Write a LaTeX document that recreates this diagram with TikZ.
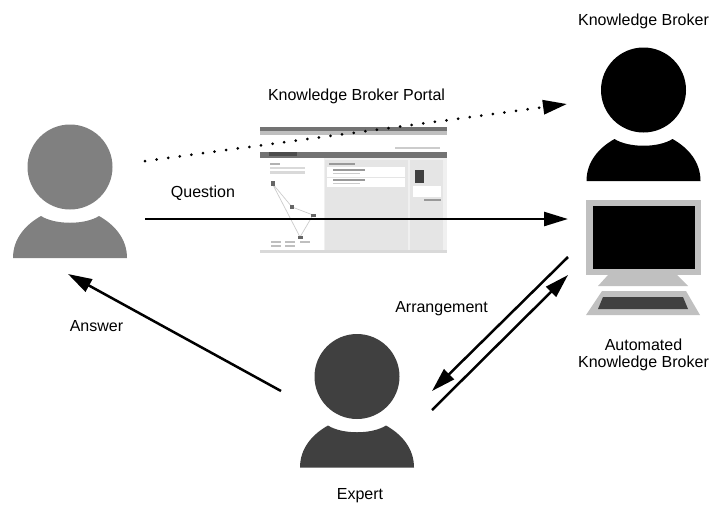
\documentclass[tikz,border=0pt]{standalone}
\usepackage{fontspec}
\setmainfont{Liberation Sans}
\usetikzlibrary{arrows.meta}
\definecolor{asker}{HTML}{808080}
\definecolor{expert}{HTML}{404040}
\definecolor{monitor}{HTML}{C0C0C0}
\tikzset{
  label text/.style={font=\fontsize{16}{17.5}\selectfont, align=center, inner sep=0pt},
  flow/.style={line width=2.5pt, -{Triangle[length=24pt,width=14pt]}},
  panel/.style={fill=black!10, draw=none},
  bar/.style={fill=#1, draw=none}
}
\newcommand{\personicon}[3]
{
\begin{scope}[shift={(#1,#2)}]
\fill[#3] (0,0) circle (42.5);
\fill[#3] (-57,91) .. controls (-57,72) and (-45,58) .. (-29,49)
  .. controls (-15,58) and (15,58) .. (29,49)
  .. controls (45,58) and (57,72) .. (57,91) -- cycle;
\end{scope}
}

\begin{document}
\begin{tikzpicture}[x=1pt, y=-1pt]
  \useasboundingbox (0,0) rectangle (711,504);

  \personicon{70}{167}{asker}
  \personicon{643.5}{90}{black}
  \personicon{357}{376.5}{expert}

  % monitor and keyboard
  \fill[monitor] (586,200) rectangle (701,275);
  \fill[black] (593,206) rectangle (695,269);
  \fill[monitor] (608,275) -- (677,275) -- (688,286) -- (598,286) -- cycle;
  \fill[monitor] (602,291) -- (686,291) -- (700,315) -- (586,315) -- cycle;
  \fill[expert] (603,297) -- (683,297) -- (688,309) -- (598,309) -- cycle;

  % portal screenshot
  \node[draw=none, fill=black!6, inner sep=0pt, minimum width=187pt, minimum height=126pt, anchor=north west] (portal) at (260,127) {};
  \fill[bar=black!55] (260,127) rectangle (447,131);
  \fill[bar=black!25] (260,131) rectangle (447,135);
  \fill[bar=white] (260,135) rectangle (447,152);
  \fill[bar=black!55] (260,152) rectangle (447,158);
  \fill[bar=black!70] (269,152) rectangle (297,156);
  \fill[bar=black!20] (395,147) rectangle (440,148.5);
  \fill[bar=white] (260,158) rectangle (324,250);
  \fill[panel] (325,160) rectangle (408,250);
  \fill[panel] (410,160) rectangle (443,250);
  \fill[bar=white] (327,167) rectangle (405,177);
  \fill[bar=white] (327,178) rectangle (405,187);
  \fill[bar=black!75] (415,170) rectangle (424,183);
  \fill[bar=white] (413,186) rectangle (441,197);
  \fill[bar=black!40] (424,199) rectangle (441,201);
  \fill[bar=black!30] (270,163) rectangle (280,165);
  \fill[bar=black!15] (270,167) rectangle (305,169);
  \fill[bar=black!15] (270,171) rectangle (305,174);
  \fill[bar=black!40] (329,163) rectangle (355,164.5);
  \fill[bar=black!40] (333,169) rectangle (365,171);
  \fill[bar=black!40] (333,179) rectangle (365,181);
  \fill[bar=black!20] (333,173) rectangle (360,174);
  \fill[bar=black!20] (333,183) rectangle (360,184);
  \draw[black!20, line width=0.7pt] (272,183) -- (292,207) -- (313,215) -- (300,237) -- (272,183);
  \fill[bar=black!60] (271,181) rectangle (275,186);
  \fill[bar=black!60] (290,205) rectangle (294,209);
  \fill[bar=black!60] (311,214) rectangle (316,217);
  \fill[bar=black!60] (298,236) rectangle (303,239);
  \foreach \legendx in {271,285,300}
    \fill[bar=black!25] (\legendx,241) rectangle ++(10,1.5);
  \foreach \legendx in {271,285}
    \fill[bar=black!25] (\legendx,245) rectangle ++(10,1.5);
  \fill[bar=black!15] (260,250) rectangle (447,253);

  \coordinate (dotted start) at (145,161);
  \coordinate (dotted end) at (567,104);
  \coordinate (question start) at (145,219);
  \coordinate (question end) at (568,219);
  \coordinate (answer start) at (281,391);
  \coordinate (answer end) at (68,274);
  \coordinate (arrange start) at (568,257);
  \coordinate (arrange end) at (432,391);
  \coordinate (reply start) at (432,410);
  \coordinate (reply end) at (568,275);

  \draw[flow, line width=3pt, dash pattern=on 0pt off 11.7pt, line cap=round] (dotted start) -- (dotted end);
  \draw[flow] (question start) -- (question end);
  \draw[flow] (answer start) -- (answer end);
  \draw[flow] (arrange start) -- (arrange end);
  \draw[flow] (reply start) -- (reply end);

  \node[label text] (broker label) at (643.5,21.5) {Knowledge Broker};
  \node[label text] (portal label) at (356.5,96) {Knowledge Broker Portal};
  \node[label text] (question label) at (203,193.5) {Question};
  \node[label text] (answer label) at (96.5,326) {Answer};
  \node[label text] (arrange label) at (441.5,309) {Arrangement};
  \node[label text] (auto label) at (643.5,355) {Automated\\Knowledge Broker};
  \node[label text] (expert label) at (360,496) {Expert};

\end{tikzpicture}
\end{document}
